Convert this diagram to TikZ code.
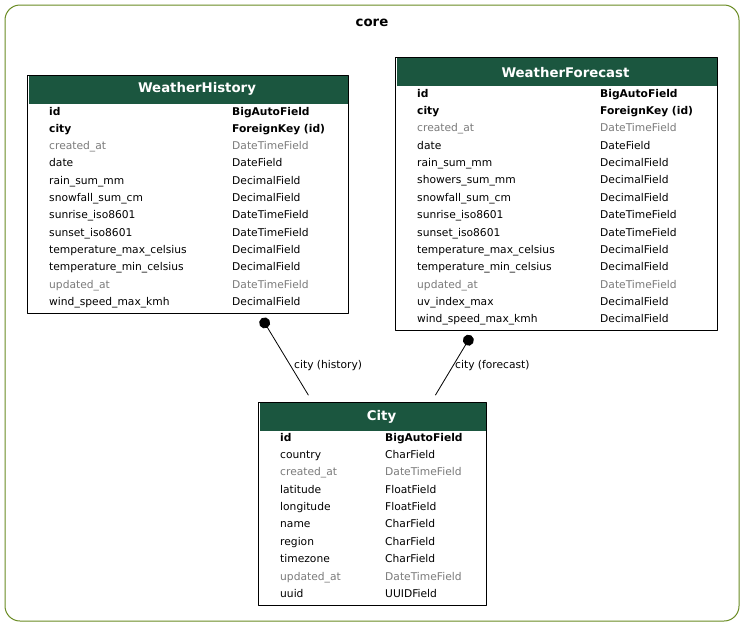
\documentclass[tikz,border=0pt]{standalone}
\usepackage{fontspec}
\setmainfont{DejaVu Sans}
\usetikzlibrary{arrows.meta,calc}

\definecolor{headgreen}{HTML}{1B563F}
\definecolor{clustergreen}{HTML}{698B22}
\definecolor{fadedgrey}{HTML}{7B7B7B}

\newcommand{\fieldfont}{\fontsize{10.7}{12}\selectfont}
\newcommand{\titlefont}{\fontsize{13.3}{15}\selectfont\bfseries}

\tikzset{
    tablebox/.style={draw=black, line width=1pt, fill=white, inner sep=0pt, anchor=north west},
    headcell/.style={fill=headgreen, inner sep=0pt, anchor=north},
    headtitle/.style={text=white, font=\titlefont, inner sep=0pt},
    field/.style={anchor=base west, inner sep=0pt, font=\fieldfont},
    keyfield/.style={font=\fieldfont\bfseries},
    fadedfield/.style={text=fadedgrey},
    plainfield/.style={},
    relation/.style={line width=0.8pt, {Circle[length=11pt]}-},
    edgelabel/.style={anchor=west, inner sep=0pt, font=\fieldfont},
}

\begin{document}
\begin{tikzpicture}[x=1pt,y=-1pt,line cap=round,line join=round]
    \useasboundingbox (0,0) rectangle (744,627);

    % cluster
    \draw[clustergreen, line width=1pt, rounded corners=15pt] (5,5) rectangle (739,621);
    \node[font=\titlefont, inner sep=0pt] (core) at (372,22.5) {core};

    % WeatherHistory
    \node[tablebox, minimum width=321pt, minimum height=238pt] (history) at (27,75) {};
    \node[headcell, minimum width=319pt, minimum height=28pt] (history-head) at ([yshift=-1pt]history.north) {};
    \node[headtitle] (history-title) at ([xshift=9pt,yshift=1pt]history-head.center) {WeatherHistory};
    \foreach \fname/\ftype/\fstyle [count=\i] in {
        id/BigAutoField/keyfield,
        city/ForeignKey (id)/keyfield,
        created\_at/DateTimeField/fadedfield,
        date/DateField/plainfield,
        rain\_sum\_mm/DecimalField/plainfield,
        snowfall\_sum\_cm/DecimalField/plainfield,
        sunrise\_iso8601/DateTimeField/plainfield,
        sunset\_iso8601/DateTimeField/plainfield,
        temperature\_max\_celsius/DecimalField/plainfield,
        temperature\_min\_celsius/DecimalField/plainfield,
        updated\_at/DateTimeField/fadedfield,
        wind\_speed\_max\_kmh/DecimalField/plainfield}
    {
        \node[field,\fstyle] (history-name\i) at ({49},{115+17.3*(\i-1)}) {\fname};
        \node[field,\fstyle] (history-type\i) at ({232},{115+17.3*(\i-1)}) {\ftype};
    }

    % WeatherForecast
    \node[tablebox, minimum width=322pt, minimum height=273pt] (forecast) at (395,57) {};
    \node[headcell, minimum width=320pt, minimum height=28pt] (forecast-head) at ([yshift=-1pt]forecast.north) {};
    \node[headtitle] (forecast-title) at ([xshift=9pt]forecast-head.center) {WeatherForecast};
    \foreach \fname/\ftype/\fstyle [count=\i] in {
        id/BigAutoField/keyfield,
        city/ForeignKey (id)/keyfield,
        created\_at/DateTimeField/fadedfield,
        date/DateField/plainfield,
        rain\_sum\_mm/DecimalField/plainfield,
        showers\_sum\_mm/DecimalField/plainfield,
        snowfall\_sum\_cm/DecimalField/plainfield,
        sunrise\_iso8601/DateTimeField/plainfield,
        sunset\_iso8601/DateTimeField/plainfield,
        temperature\_max\_celsius/DecimalField/plainfield,
        temperature\_min\_celsius/DecimalField/plainfield,
        updated\_at/DateTimeField/fadedfield,
        uv\_index\_max/DecimalField/plainfield,
        wind\_speed\_max\_kmh/DecimalField/plainfield}
    {
        \node[field,\fstyle] (forecast-name\i) at ({417},{97+17.38*(\i-1)}) {\fname};
        \node[field,\fstyle] (forecast-type\i) at ({600},{97+17.38*(\i-1)}) {\ftype};
    }

    % City
    \node[tablebox, minimum width=228pt, minimum height=203pt] (city) at (258,402) {};
    \node[headcell, minimum width=226pt, minimum height=28pt] (city-head) at ([yshift=-1pt]city.north) {};
    \node[headtitle] (city-title) at ([xshift=9pt]city-head.center) {City};
    \foreach \fname/\ftype/\fstyle [count=\i] in {
        id/BigAutoField/keyfield,
        country/CharField/plainfield,
        created\_at/DateTimeField/fadedfield,
        latitude/FloatField/plainfield,
        longitude/FloatField/plainfield,
        name/CharField/plainfield,
        region/CharField/plainfield,
        timezone/CharField/plainfield,
        updated\_at/DateTimeField/fadedfield,
        uuid/UUIDField/plainfield}
    {
        \node[field,\fstyle] (city-name\i) at ({280},{441+17.38*(\i-1)}) {\fname};
        \node[field,\fstyle] (city-type\i) at ({385},{441+17.38*(\i-1)}) {\ftype};
    }

    % relations
    \coordinate (history-tail) at (261.8,318.2);
    \coordinate (history-end) at (308.3,395);
    \coordinate (forecast-tail) at (471.2,335.5);
    \coordinate (forecast-end) at (435.5,395);
    \draw[relation] (history-tail) -- (history-end);
    \draw[relation] (forecast-tail) -- (forecast-end);
    \node[edgelabel] (history-label) at (294,366) {city (history)};
    \node[edgelabel] (forecast-label) at (455,366) {city (forecast)};

\end{tikzpicture}
\end{document}
